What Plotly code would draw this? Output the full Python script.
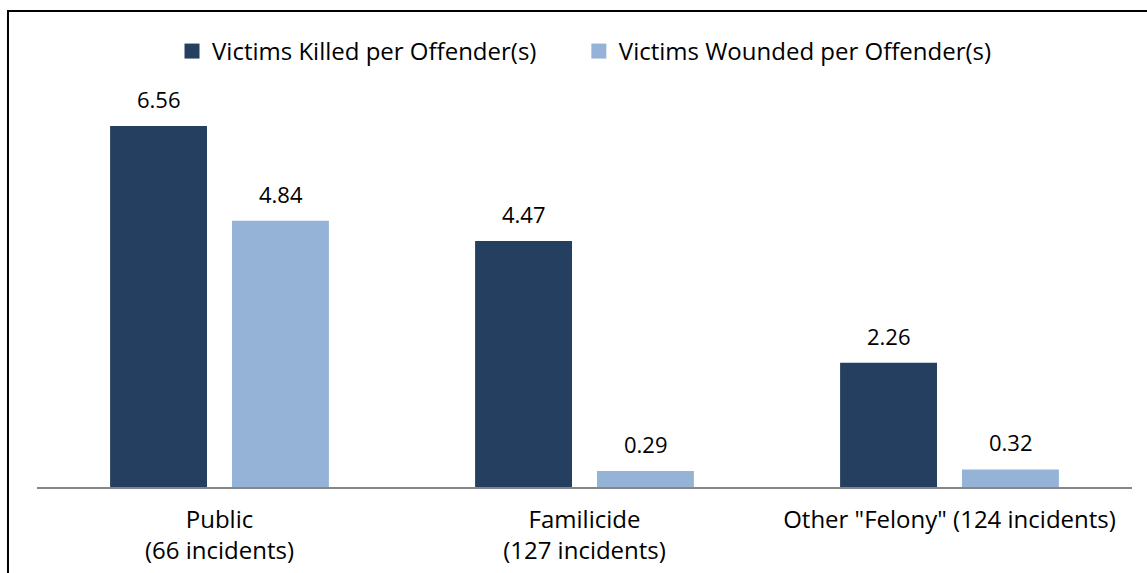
import plotly.graph_objects as go

categories = ["Public<br>(66 incidents)", "Familicide<br>(127 incidents)", "Other \"Felony\" (124 incidents)"]
killed = [6.56, 4.47, 2.26]
wounded = [4.84, 0.29, 0.32]
series_names = ["Victims Killed per Offender(s)", "Victims Wounded per Offender(s)"]

FONT = "Open Sans"
FS = 24
FS_VAL = 22
colors = ["#253F60", "#95B3D7"]

fig = go.Figure()
for name, vals, col in zip(series_names, [killed, wounded], colors):
    fig.add_trace(go.Bar(x=categories, y=vals, name=name, showlegend=False,
                         marker=dict(color=col, line=dict(width=0))))
# legend entries with larger square symbols
pad = "\u00a0" * 6
for i, (name, col) in enumerate(zip(series_names, colors)):
    fig.add_trace(go.Scatter(x=[categories[0]], y=[None], name=name + (pad if i == 0 else ""),
                             mode="markers",
                             marker=dict(symbol="square", size=15, color=col),
                             showlegend=True, hoverinfo="skip"))

annotations = []
for vals, shift in [(killed, -61), (wounded, 61)]:
    for c, v in zip(categories, vals):
        annotations.append(dict(x=c, y=v, xref="x", yref="y", text=f"{v:.2f}",
                                showarrow=False, yanchor="bottom", yshift=10, xshift=shift,
                                font=dict(size=FS_VAL, family=FONT, color="black")))

fig.update_layout(
    width=1147, height=573,
    margin=dict(l=37, r=15, t=60, b=86),
    paper_bgcolor="white", plot_bgcolor="white",
    barmode="group", bargap=0.332, bargroupgap=0.205,
    font=dict(family=FONT, size=FS, color="black"),
    showlegend=True,
    legend=dict(orientation="h", x=0.1233, xanchor="left", y=1.02, yanchor="middle",
                font=dict(size=FS, family=FONT, color="black"),
                itemwidth=30, traceorder="normal"),
    xaxis=dict(showline=True, linecolor="#868686", linewidth=2, ticks="",
               ticklabelstandoff=10, automargin=False,
               tickfont=dict(size=FS, family=FONT, color="black"), showgrid=False),
    yaxis=dict(range=[0, 7.76], visible=False, showgrid=False, zeroline=False, automargin=False),
    annotations=annotations,
    shapes=[dict(type="rect", xref="paper", yref="paper",
                 x0=-0.0265, y0=-0.5, x1=1.2, y1=1.1148,
                 line=dict(color="black", width=2), fillcolor="rgba(0,0,0,0)", layer="above")],
)

fig.write_html("out.html", config={"displayModeBar": False},
               post_script="document.body.style.margin='0px';document.body.style.overflow='hidden';")
